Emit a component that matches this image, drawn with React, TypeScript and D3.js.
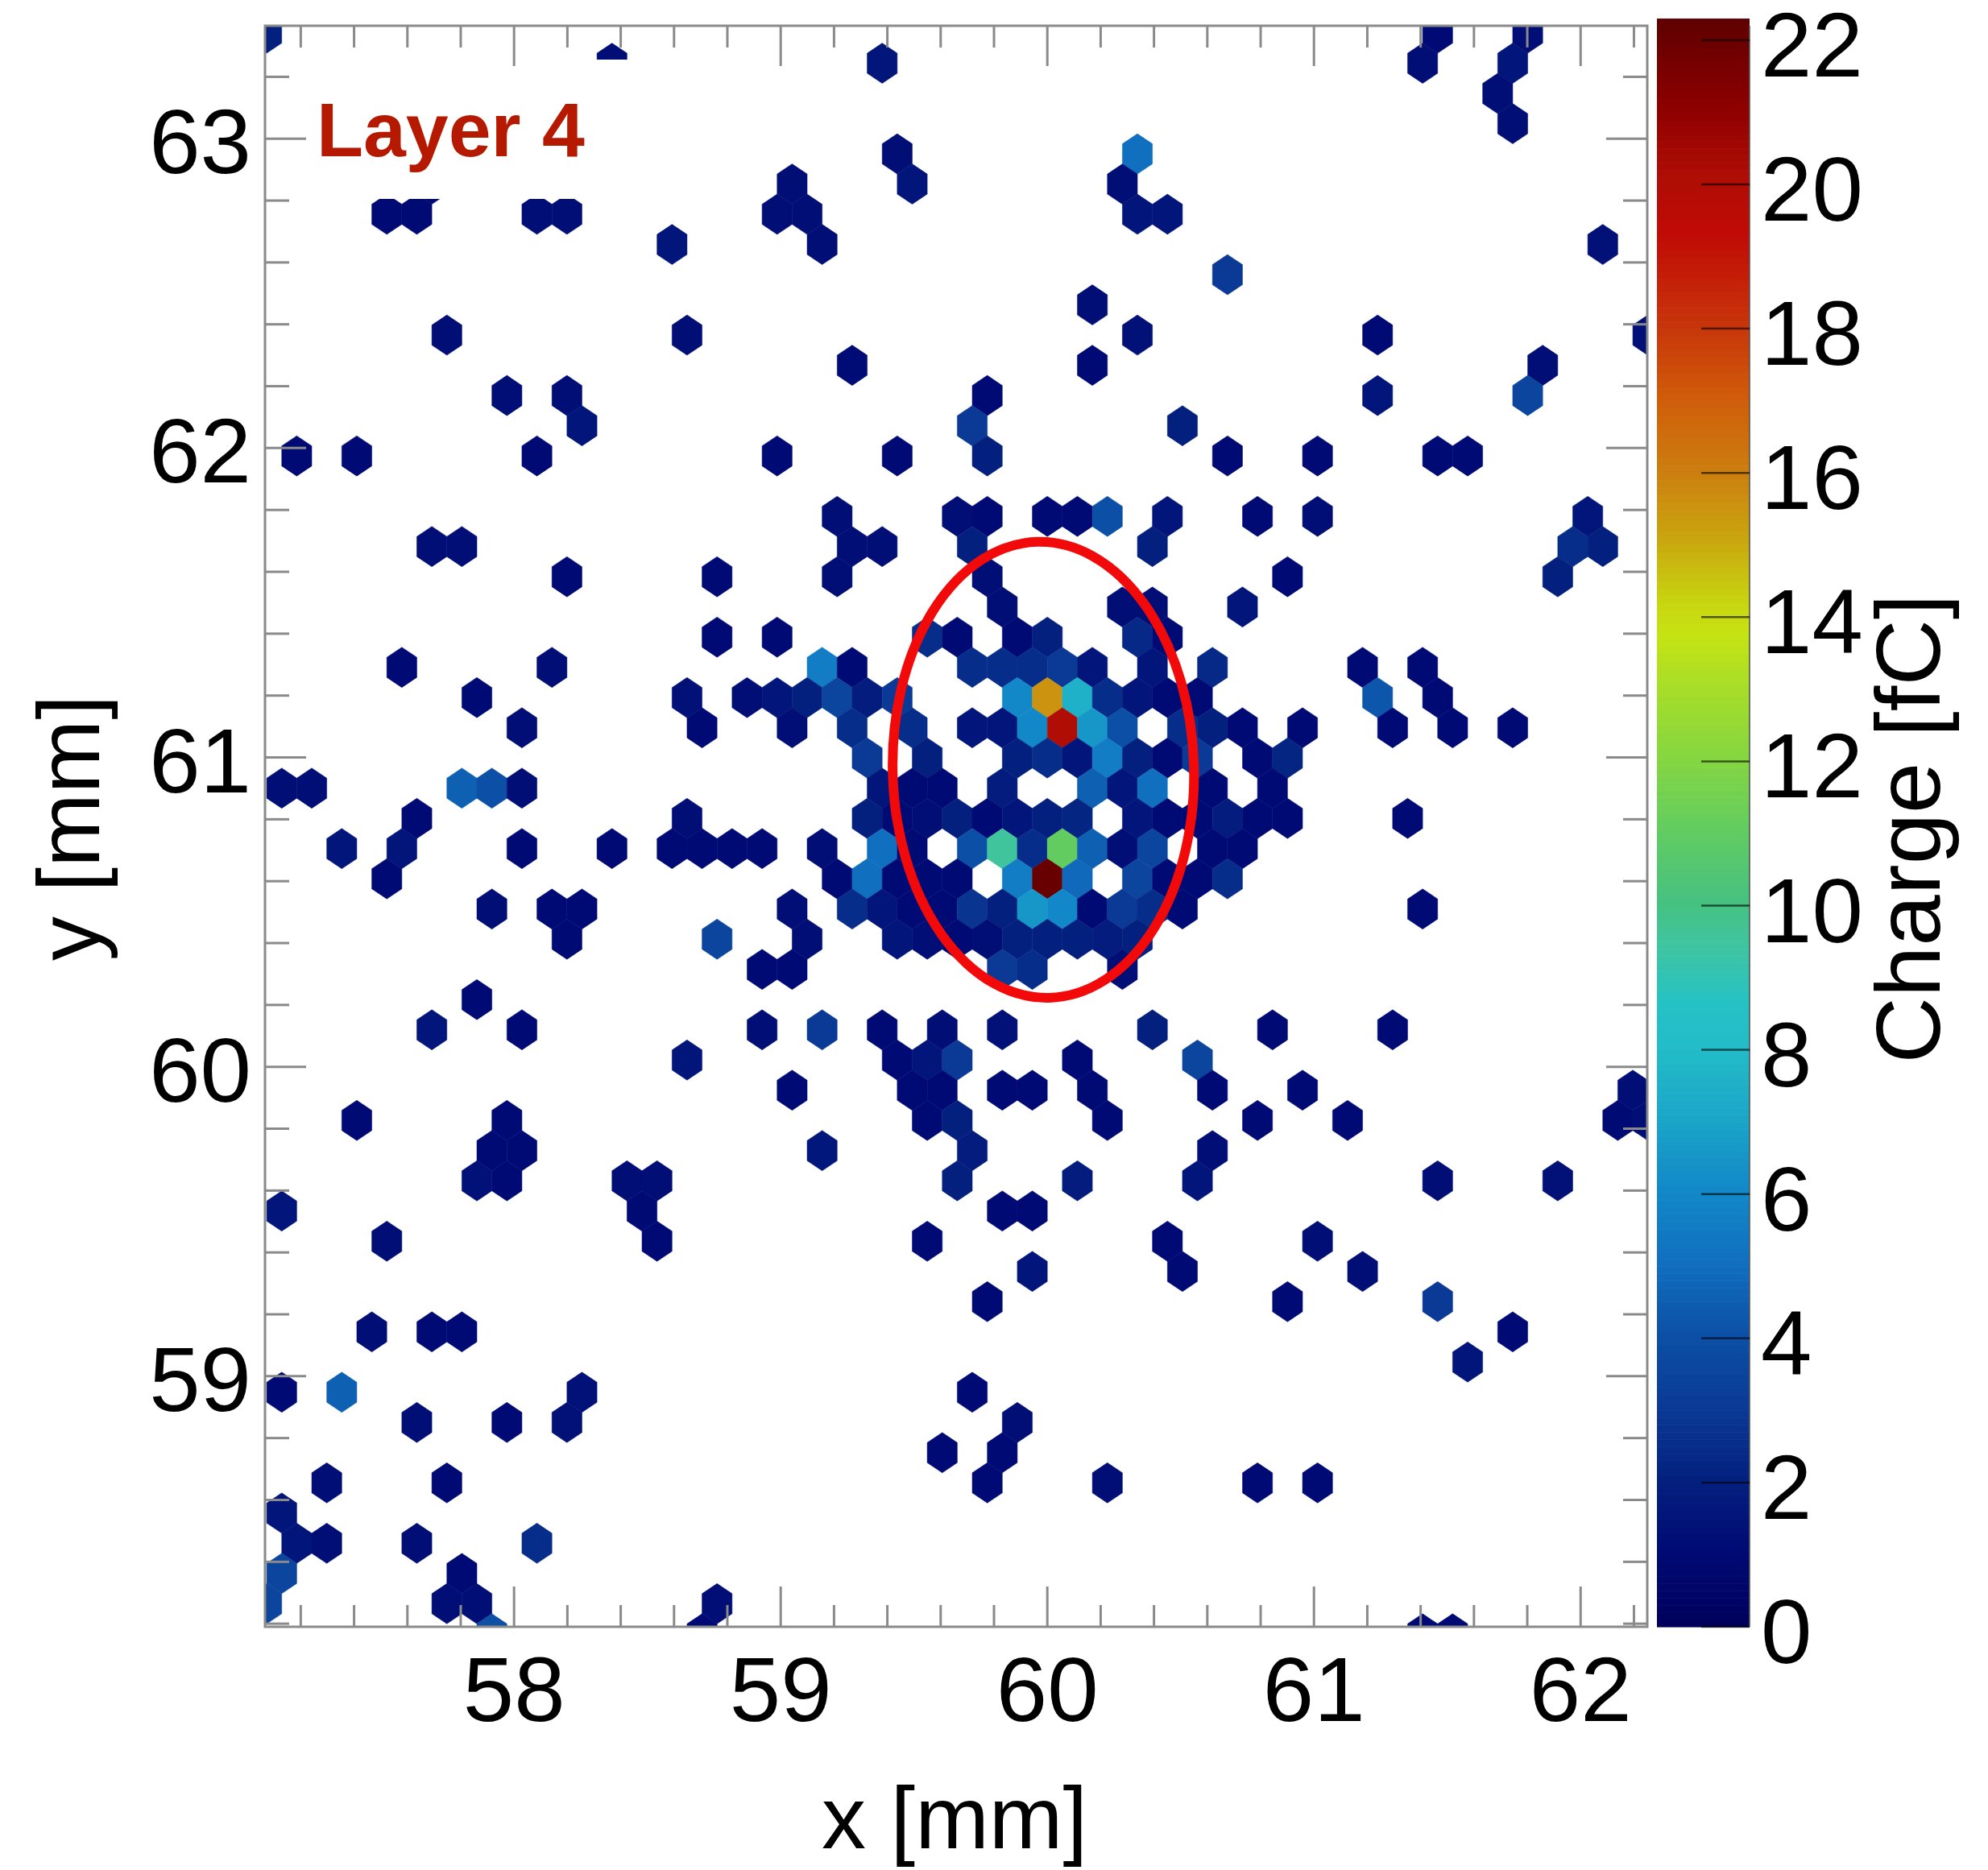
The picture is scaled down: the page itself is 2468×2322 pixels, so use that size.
import React from "react";
import * as d3 from "d3";

// Hexagonal pad lattice: row index from the top, column in pad pitches (odd rows sit on half-columns).
const rowIndex = [0,1,2,3,4,5,6,7,8,9,10,11,12,13,14,16,17,18,19,20,21,22,23,24,25,26,27,28,29,30,31,32,33,34,35,36,37,38,39,40,41,42,43,44,45,46,47,48,49,50,51,52,53];
const colsByRow = [
  [-1,38,41],
  [10.5,19.5,37.5,40.5],
  [40],
  [40.5],
  [20,28],
  [4.5,16.5,20.5,27.5],
  [3,4,8,9,16,17,28,29],
  [12.5,17.5,43.5],
  [31],
  [26.5],
  [5,13,28,36,45],
  [18.5,26.5,41.5],
  [7,9,23,36,41],
  [9.5,22.5,29.5],
  [0,2,8,16,20,23,31,34,38,39],
  [18,22,23,25,26,27,29,32,34,43],
  [4.5,5.5,18.5,19.5,22.5,28.5,42.5,43.5],
  [9,14,18,23,33,42],
  [23.5,27.5,28.5,31.5],
  [14,16,21,22,24,25,28,29],
  [3.5,8.5,17.5,18.5,22.5,23.5,24.5,25.5,26.5,28.5,30.5,35.5,37.5],
  [6,13,15,16,17,18,19,20,24,25,26,27,28,29,30,36,38],
  [7.5,13.5,16.5,18.5,20.5,22.5,23.5,24.5,25.5,26.5,27.5,29.5,30.5,31.5,33.5,36.5,38.5,40.5],
  [19,21,24,25,26,27,28,29,30,32,33],
  [-0.5,0.5,5.5,6.5,7.5,19.5,20.5,21.5,23.5,26.5,27.5,28.5,30.5,32.5],
  [4,13,19,20,21,22,23,24,25,26,28,29,30,31,32,33,37],
  [1.5,3.5,7.5,10.5,12.5,13.5,14.5,15.5,17.5,19.5,20.5,22.5,23.5,24.5,25.5,26.5,27.5,28.5,30.5,31.5],
  [3,18,19,20,21,22,24,25,26,28,29,30,31],
  [6.5,8.5,9.5,16.5,18.5,19.5,20.5,21.5,22.5,23.5,24.5,25.5,26.5,27.5,28.5,29.5,37.5],
  [9,14,17,20,21,22,23,24,25,26,27,28],
  [15.5,16.5,23.5,24.5,27.5],
  [6],
  [4.5,7.5,15.5,17.5,19.5,21.5,23.5,28.5,32.5,36.5],
  [13,20,21,22,26,30],
  [16.5,20.5,21.5,23.5,24.5,26.5,30.5,33.5,44.5],
  [2,7,21,22,27,32,35,44,45],
  [6.5,7.5,17.5,22.5,30.5],
  [6,7,11,12,22,26,30,38,42],
  [-0.5,11.5,23.5,24.5],
  [3,12,21,29,34],
  [24.5,29.5,35.5],
  [23,33,38],
  [2.5,4.5,5.5,40.5],
  [39],
  [-0.5,1.5,9.5,22.5],
  [4,7,9,24],
  [21.5,23.5],
  [1,5,23,27,32,34],
  [-0.5],
  [0,1,4,8],
  [-0.5,5.5],
  [-1,5,6,14],
  [6.5,13.5,37.5,38.5],
];
const chargeByRow = [
  [2,1,1.2],
  [1.2,1.5,1.2,1.5],
  [1.2],
  [1.2],
  [1.2,5],
  [1,1.2,1.5,1.2],
  [1,1,1.2,1.2,1.2,1.2,1.5,1.5],
  [1.5,1.2,1.3],
  [3],
  [1.2],
  [1.2,1.2,1.3,1,1.3],
  [1.1,1,1.2],
  [1.2,1.2,1,1.5,3.5],
  [1.5,3,2],
  [1,1,1,1,1,2,1,1,1,1],
  [1.2,1.2,1,1,1,4,1.5,1,1.2,1.5],
  [1.2,1.2,1.2,1.2,2,2,2.5,2],
  [1,1,1.2,1.2,1,2],
  [1.2,1.2,1.2,1.5],
  [1,1,2.5,1,1,2,2.3,1],
  [1,1.2,5.5,1,2.5,2.5,2.5,3,1.5,1.5,2.3,1,1],
  [1,1.3,1.2,1.5,2,3.5,1.8,3,6,15.5,7.5,2.5,1.5,1,1,4.2,1],
  [1.2,1,1.2,2.5,2.5,1.5,1.5,6,20,6.5,4,2.5,2,1,1,1,1,1],
  [3,2,2,2.5,1.5,5.5,2,1,3,1,2.2],
  [1.2,1.2,4.5,4,1.2,1.5,1,1,1.8,4.5,1.5,5,1,1],
  [1,1.2,2,1,1.2,2,1,1.5,2,2.2,1.5,1,1,1.8,1,1,1],
  [1.5,1.5,1,1,1,1,1,1,1.2,5,1,4,9.5,2.5,11,4.5,1.2,3.5,1,1],
  [1,1,5,1,1,1,5.5,22,4.8,3.5,1,1,2.5],
  [1.2,1,1,1.2,2.5,1.5,1,1,2.8,2,6.5,6,1,3,2.5,1,1],
  [1,3.5,1.2,1.5,1.2,1,1.2,2,2,2,1.8,2],
  [1,1,3,2.5,1.2],
  [1],
  [1.5,1,1.2,3,1,1.2,1.3,2,1,1],
  [1.5,1,1.5,3,1,3.5],
  [1,1,1,1,1,1,1,1,1.2],
  [1,1,1,2,1,1,1,1,1.2],
  [1,1,1.6,1.8,1.2],
  [1.3,1,1.2,1.2,2,1.8,1.5,1.2,1.3],
  [1.5,1,1,1],
  [1.2,1,1,1,1.2],
  [1.5,1,1.2],
  [1,1,3],
  [1.2,1,1,1],
  [1.5],
  [1,4.5,1.3,1],
  [1.2,1,1.3,1.2],
  [1,1],
  [1.2,1,1,1.2,1,1],
  [1.5],
  [1.5,1.2,1.2,2.5],
  [3.5,1],
  [3.5,1.2,1.2,1.2],
  [4,1,1,1],
];

const xMajorTicks = [58, 59, 60, 61, 62];
const yMajorTicks = [59, 60, 61, 62, 63];
const chargeTicks = [0, 2, 4, 6, 8, 10, 12, 14, 16, 18, 20, 22];
const paletteCharges = [0, 1, 2, 3, 4, 5, 6, 7, 8, 8.6, 9.4, 10, 11, 12, 13, 13.7, 14.1, 15, 16, 17, 18, 19.3, 20, 21, 22, 22.2];
const paletteColors = ["#00005c","#000a74","#04207f","#0a3a95","#0b50a6","#116fbf","#1288c8","#1ba6c8","#23bcc8","#25c2c5","#3fc4a0","#46c180","#62cc60","#85d640","#a8de28","#c5e312","#c8d810","#c9a80f","#cc7d0f","#d05c0a","#c8340a","#c00a05","#b00e05","#8f0000","#680000","#600000"];

const W = 2468, H = 2322;
const plot = { l: 329, r: 2045, t: 32, b: 2020 };
const bar = { l: 2057, r: 2172 };
const xDomain = [57.066, 62.25];
const yDomain = [58.19, 63.365];
const chargeDomain = [0, 22.2];
const latticeX0 = 57.185, latticeDx = 0.1126, latticeY0 = 63.3414, latticeDy = 0.09763;
const ringCenter = [59.985, 60.96], ringRadii = [0.565, 0.737];

const FONT = "'Liberation Sans', Arial, sans-serif";
const GRAY = "#8a8a8a";

const x = d3.scaleLinear().domain(xDomain).range([plot.l, plot.r]);
const y = d3.scaleLinear().domain(yDomain).range([plot.b, plot.t]);
const zBar = d3.scaleLinear().domain(chargeDomain).range([plot.b, plot.t]);
const color = d3.scaleLinear<string>().domain(paletteCharges).range(paletteColors).clamp(true);
const line = d3.line<[number, number]>().x((d) => x(d[0])).y((d) => y(d[1]));

const cells = rowIndex.flatMap((r, i) =>
  colsByRow[i].map((c, j) => ({
    cx: latticeX0 + latticeDx * c,
    cy: latticeY0 - latticeDy * r,
    q: chargeByRow[i][j],
  }))
);

function hexPath(cx: number, cy: number) {
  const w = latticeDx / 2, R = (latticeDy * 2) / 3;
  const pts: [number, number][] = [
    [cx, cy + R],[cx + w, cy + R / 2],[cx + w, cy - R / 2],
    [cx, cy - R],[cx - w, cy - R / 2],[cx - w, cy + R / 2],
  ];
  return line(pts) + "Z";
}

const minorRange = (a: number, b: number) => d3.range(Math.round((b - a) / 0.2) + 1).map((i) => +(a + i * 0.2).toFixed(1));
const xMinor = minorRange(57.2, 62.2);
const yMinor = minorRange(58.2, 63.2);
const isMajor = (v: number) => Number.isInteger(v);

const barStops = d3.range(0, 223).map((i) => i / 10);

export default function App() {
  return (
    <svg width={W} height={H} viewBox={`0 0 ${W} ${H}`} style={{ position: "absolute", left: 0, top: 0, background: "#fff", display: "block" }}>
      <style>{`body{margin:0}`}</style>
      <defs>
        <clipPath id="plotClip"><rect x={plot.l} y={plot.t} width={plot.r - plot.l} height={plot.b - plot.t} /></clipPath>
      </defs>
      <g clipPath="url(#plotClip)">
        {cells.map((d, i) => <path key={i} d={hexPath(d.cx, d.cy)} fill={color(d.q)} stroke={color(d.q)} strokeWidth={0.5} />)}
      </g>
      {/* white label patch that hides part of the map */}
      <rect x={385} y={74} width={405} height={173} fill="#fff" />
      {xMinor.map((v) => {
        const len = isMajor(v) ? 50 : 27;
        return (
          <g key={v} stroke={GRAY} strokeWidth={3}>
            <line x1={x(v)} x2={x(v)} y1={plot.b} y2={plot.b - len} />
            <line x1={x(v)} x2={x(v)} y1={plot.t} y2={plot.t + len} />
          </g>
        );
      })}
      {yMinor.map((v) => {
        const len = isMajor(v) ? 51 : 30;
        return (
          <g key={v} stroke={GRAY} strokeWidth={3}>
            <line x1={plot.l} x2={plot.l + len} y1={y(v)} y2={y(v)} />
            <line x1={plot.r} x2={plot.r - len} y1={y(v)} y2={y(v)} />
          </g>
        );
      })}
      <rect x={plot.l} y={plot.t} width={plot.r - plot.l} height={plot.b - plot.t} fill="none" stroke={GRAY} strokeWidth={3} />
      <ellipse cx={x(ringCenter[0])} cy={y(ringCenter[1])} rx={x(ringCenter[0] + ringRadii[0]) - x(ringCenter[0])} ry={y(ringCenter[1]) - y(ringCenter[1] + ringRadii[1])}
        fill="none" stroke="#f20a0a" strokeWidth={12} transform={`rotate(-1.5 ${x(ringCenter[0])} ${y(ringCenter[1])})`} />

      {/* colour bar */}
      {barStops.map((v) => (
        <rect key={v} x={bar.l} width={bar.r - bar.l} y={zBar(v + 0.1)} height={zBar(v) - zBar(v + 0.1) + 0.6} fill={color(v)} />
      ))}
      <line x1={bar.r} x2={bar.r} y1={plot.t} y2={plot.b} stroke="#555" strokeWidth={2} opacity={0.8} />
      {chargeTicks.map((v) => (
        <g key={v}>
          <line x1={bar.r} x2={bar.r - 60} y1={zBar(v)} y2={zBar(v)} stroke="#000" strokeOpacity={0.6} strokeWidth={2.5} />
          <text x={2186} y={zBar(v) + 45} fontFamily={FONT} fontSize={114} fill="#000">{v}</text>
        </g>
      ))}

      {xMajorTicks.map((v) => (
        <text key={v} x={x(v)} y={2137} textAnchor="middle" fontFamily={FONT} fontSize={114} fill="#000">{v}</text>
      ))}
      {yMajorTicks.map((v) => (
        <text key={v} x={312} y={y(v) + 43} textAnchor="end" fontFamily={FONT} fontSize={114} fill="#000">{v}</text>
      ))}
      <text x={1185} y={2295} textAnchor="middle" fontFamily={FONT} fontSize={110} fill="#000">x [mm]</text>
      <text transform="translate(123,1028) rotate(-90)" textAnchor="middle" fontFamily={FONT} fontSize={110} fill="#000">y [mm]</text>
      <text transform="translate(2408,1029) rotate(-90)" textAnchor="middle" fontFamily={FONT} fontSize={114} fill="#000">Charge [fC]</text>
      <text x={393} y={194} fontFamily={FONT} fontWeight="bold" fontSize={95} fill="#b51a00">Layer 4</text>
    </svg>
  );
}
